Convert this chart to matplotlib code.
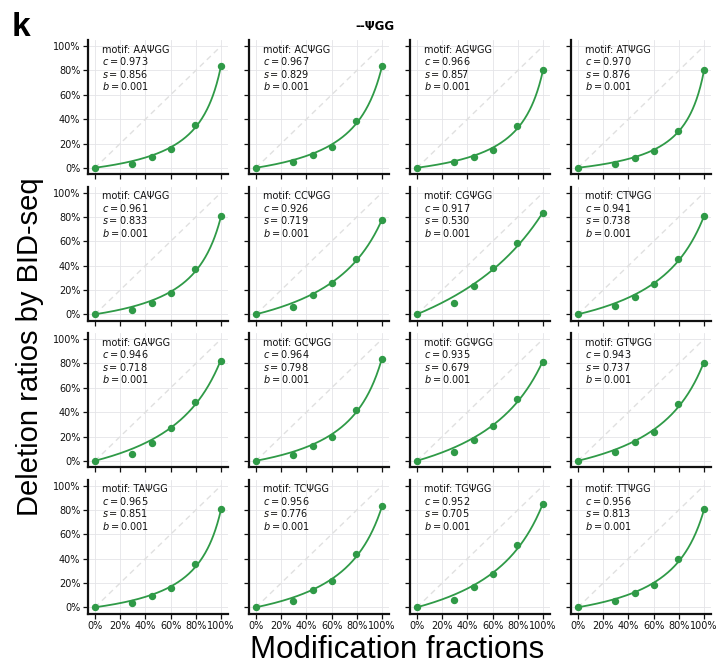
import numpy as np
import matplotlib.pyplot as plt
from matplotlib.ticker import PercentFormatter

# spike-in modification fractions
frac = [0.0, 0.29, 0.45, 0.60, 0.79, 1.0]

motifs = ["AA", "AC", "AG", "AT",
          "CA", "CC", "CG", "CT",
          "GA", "GC", "GG", "GT",
          "TA", "TC", "TG", "TT"]

# fit parameters per motif
c_vals = [0.973, 0.967, 0.966, 0.970,
          0.961, 0.926, 0.917, 0.941,
          0.946, 0.964, 0.935, 0.943,
          0.965, 0.956, 0.952, 0.956]
s_vals = [0.856, 0.829, 0.857, 0.876,
          0.833, 0.719, 0.530, 0.738,
          0.718, 0.798, 0.679, 0.737,
          0.851, 0.776, 0.705, 0.813]
b_vals = [0.001] * 16

# observed deletion ratios (%)
deletion = [
    [0, 3.3, 8.9, 15.3, 35.3, 84.0],
    [0, 4.7, 10.8, 17.5, 38.3, 83.4],
    [0, 5.0, 8.9, 15.0, 34.2, 80.6],
    [0, 3.6, 8.3, 13.9, 30.6, 80.6],
    [0, 3.9, 9.7, 17.2, 36.9, 80.4],
    [0, 6.4, 15.8, 25.8, 45.8, 77.8],
    [0, 9.7, 23.6, 37.8, 58.9, 83.0],
    [0, 7.2, 14.7, 24.7, 45.8, 80.4],
    [0, 5.8, 14.6, 27.3, 48.6, 82.3],
    [0, 5.0, 12.1, 19.9, 42.2, 83.6],
    [0, 7.4, 16.8, 28.7, 51.0, 81.1],
    [0, 7.2, 15.2, 24.0, 46.6, 80.6],
    [0, 3.3, 9.4, 15.6, 35.3, 80.6],
    [0, 5.6, 14.4, 21.4, 44.2, 83.0],
    [0, 6.4, 16.7, 27.8, 51.4, 84.5],
    [0, 5.6, 11.9, 18.6, 39.4, 80.6],
]

green = "#2f9a47"
W, H = 719, 668
fig = plt.figure(figsize=(W / 100, H / 100), dpi=100)

lefts = [88, 249, 410, 571]
tops = [40, 186.5, 333, 479.5]
aw, ah = 140, 134

xx = np.linspace(0, 1, 200)
for i, m in enumerate(motifs):
    r, col = divmod(i, 4)
    ax = fig.add_axes([lefts[col] / W, 1 - (tops[r] + ah) / H, aw / W, ah / H])
    c, s, b = c_vals[i], s_vals[i], b_vals[i]
    yfit = b + c * xx * (1 - s) / (1 - c * s * xx)
    ax.plot([0, 1], [0, 1], ls=(0, (4, 3)), color="#e0e0e0", lw=1, zorder=1)
    ax.plot(xx, yfit, color=green, lw=1.3, zorder=3)
    ax.plot(frac, np.array(deletion[i]) / 100, "o", color=green, ms=4.3, zorder=4)

    ax.set_xlim(-0.055, 1.055)
    ax.set_ylim(-0.05, 1.05)
    ax.set_xticks(np.arange(0, 1.01, 0.2))
    ax.set_yticks(np.arange(0, 1.01, 0.2))
    ax.xaxis.set_major_formatter(PercentFormatter(1.0, decimals=0))
    ax.yaxis.set_major_formatter(PercentFormatter(1.0, decimals=0))
    ax.grid(True, color="#e4e4e8", lw=0.6)
    ax.set_axisbelow(True)
    for sp in ["top", "right"]:
        ax.spines[sp].set_visible(False)
    for sp in ["left", "bottom"]:
        ax.spines[sp].set_linewidth(1.6)
        ax.spines[sp].set_color("#111111")
    ax.tick_params(direction="out", length=3.5, width=0.9, labelsize=7,
                   colors="#111111", pad=2)
    if col != 0:
        ax.tick_params(labelleft=False)
    if r != 3:
        ax.tick_params(labelbottom=False)

    txt = (f"motif: {m}\u03a8GG\n$c = {c:.3f}$\n$s = {s:.3f}$\n$b = {b:.3f}$")
    ax.text(0.1, 0.965, txt, transform=ax.transAxes, fontsize=7,
            va="top", ha="left", linespacing=1.05, color="#111111")

fig.text(375 / W, 1 - 26 / H, "--\u03a8GG", fontsize=8.5, fontweight="bold",
         ha="center", va="center")
fig.text(12 / W, 1 - 27 / H, "k", fontsize=24, fontweight="bold",
         family="Liberation Sans", ha="left", va="center")
fig.text(30 / W, 1 - 347 / H, "Deletion ratios by BID-seq", fontsize=21,
         family="Liberation Sans", rotation=90, ha="center", va="center")
fig.text(397 / W, 1 - 650 / H, "Modification fractions", fontsize=22.5,
         family="Liberation Sans", ha="center", va="center")

fig.savefig("out.png", dpi=100)
